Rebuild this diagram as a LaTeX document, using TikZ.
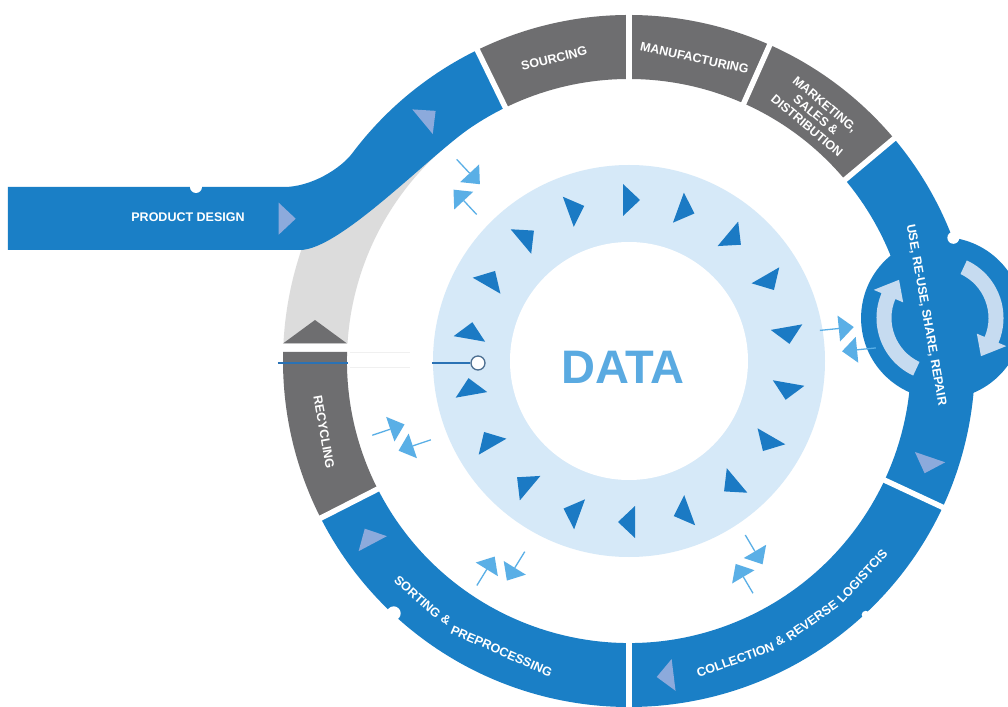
\documentclass[tikz,border=0pt]{standalone}
\usepackage{fontspec}
\setmainfont{Liberation Sans}
\definecolor{mainblue}{HTML}{1A7FC6}
\definecolor{segray}{HTML}{6E6E70}
\definecolor{lgray}{HTML}{DCDCDC}
\definecolor{ringblue}{HTML}{D6E9F8}
\definecolor{triblue}{HTML}{1B7AC4}
\definecolor{datablue}{HTML}{5AAAE1}
\definecolor{arrblue}{HTML}{5AAFE6}
\definecolor{flowtri}{HTML}{8CAADC}
\definecolor{curvarr}{HTML}{C6DBF0}
\definecolor{hubline}{HTML}{4D6F91}
\definecolor{linkblue}{HTML}{2A72B5}
\newcommand{\lblfont}{\bfseries\fontsize{12.5}{14}\selectfont}
\newcommand{\DataPair}[2]{%
  \begin{scope}[shift={(#1:#2)}, rotate=#1]
    \draw[dshaft] (27,-11.5) -- (8,-11.5);
    \fill[dar] (-7,-11.5) -- (8,-24.5) -- (8,1.5) -- cycle;
    \draw[dshaft] (-27,11.5) -- (-8,11.5);
    \fill[dar] (7,11.5) -- (-8,-1.5) -- (-8,24.5) -- cycle;
  \end{scope}}
\newcommand{\FlowTri}[2]{\fill[flow, shift={#1}, rotate=#2] (-6,-16) -- (11,0) -- (-6,16) -- cycle;}
\begin{document}
\begin{tikzpicture}[x=1pt,y=1pt,
  lbl/.style={text=white, font=\lblfont, inner sep=0pt},
  gap/.style={white, line width=5.5pt},
  notch/.style={fill=white},
  flow/.style={fill=flowtri},
  dtri/.style={fill=triblue},
  dar/.style={fill=arrblue},
  dshaft/.style={draw=arrblue, line width=1.3pt}
]
\clip (-629,-345) rectangle (379,361);
\fill[white] (-629,-345) rectangle (379,361);

% light gray return arc and arrow head
\fill[lgray] (-345.6,17.5) -- (-281.5,17.5) arc[start angle=176.44, end angle=128, radius=282]
  -- (128:346) arc[start angle=128, end angle=177.1, radius=346] -- cycle;
\fill[segray] (-346,17.5) -- (-282,17.5) -- (-314,41) -- cycle;

% product design band
\fill[mainblue] (-621,111) -- (-621,174) -- (-345,174)
  .. controls (-318,174) and (-288.3,192.2) .. (143:346)
  arc[start angle=143, end angle=116, radius=346] -- (116:282)
  arc[start angle=116, end angle=124, radius=282]
  .. controls (-199.2,205.9) and (-289,111) .. (-329,111) -- cycle;

% process ring
\fill[mainblue] (-153:282) arc[start angle=-153, end angle=40, radius=282]
  -- (40:346) arc[start angle=40, end angle=-153, radius=346] -- cycle;
\fill[mainblue] (7.8:316) circle[radius=81];
\fill[segray] (40:282) arc[start angle=40, end angle=116, radius=282]
  -- (116:346) arc[start angle=116, end angle=40, radius=346] -- cycle;
\fill[segray] (-345.9,9) -- (-281.9,9) arc[start angle=178.17, end angle=207, radius=282]
  -- (207:346) arc[start angle=207, end angle=178.51, radius=346] -- cycle;
\foreach \g in {116,90,66,40,-25,-90,-153} \draw[gap] (\g:274) -- (\g:354);

% notches
\fill[notch] (-433,174) circle[radius=6];
\fill[notch] (20.8:347) circle[radius=6];
\fill[notch] (227:345) circle[radius=7];
\fill[notch] (-47:347) circle[radius=4];

% flow triangles
\FlowTri{(-344.3,142.3)}{0}
\FlowTri{(129.7:316)}{39.7}
\FlowTri{(-18.8:316)}{-108.8}
\FlowTri{(-83:317)}{-173}
\FlowTri{(-145.6:314)}{118}

% curved arrows in the bulge
\begin{scope}[shift={(311,43)}]
  \fill[curvarr] (65:63.5) arc[start angle=65, end angle=-23, radius=63.5] -- (-23:72) -- (-43:56)
    -- (-23:40) -- (-23:48.5) arc[start angle=-23, end angle=65, radius=48.5] -- cycle;
  \fill[curvarr, rotate=180] (65:63.5) arc[start angle=65, end angle=-23, radius=63.5] -- (-23:72) -- (-43:56)
    -- (-23:40) -- (-23:48.5) arc[start angle=-23, end angle=65, radius=48.5] -- cycle;
\end{scope}

% labels
\node[lbl] (pd) at (-441,143.5) {PRODUCT DESIGN};
\node[lbl, rotate=13.9] (src) at (103.9:311.7) {SOURCING};
\node[lbl, rotate=-12.2] (man) at (77.8:310) {MANUFACTURING};
\node[lbl, rotate=-40, align=center] (mkt) at (187,246) {MARKETING,\\SALES \&\\DISTRIBUTION};
\node[lbl, rotate=-80] (use) at (297,46) {USE, RE-USE, SHARE, REPAIR};
\node[lbl, rotate=19.6] (col1) at (289.6:317.5) {COLLECTION};
\node[lbl, rotate=28.35] (col2) at (298.35:317.5) {\&};
\node[lbl, rotate=35.2] (col3) at (305.2:317.5) {REVERSE};
\node[lbl, rotate=47.3] (col4) at (317.3:317.5) {LOGISTCIS};
\node[lbl, rotate=-41.85] (sor1) at (228.15:317) {SORTING};
\node[lbl, rotate=-35.26] (sor2) at (234.74:317) {\&};
\node[lbl, rotate=-23.72] (sor3) at (246.28:317) {PREPROCESSING};
\node[lbl, rotate=-80] (rec) at (-305,-71) {RECYCLING};

% data ring
\fill[ringblue] (0,0) circle[radius=196];
\fill[white] (0,0) circle[radius=119];
\foreach \a in {10,30,...,350} {
  \fill[dtri, shift={(\a:161)}, rotate=\a-90] (-6,-16) -- (11,0) -- (-6,16) -- cycle;
}
\node[text=datablue, font=\bfseries\fontsize{47}{50}\selectfont, inner sep=0pt] (data) at (-6,-6.5) {DATA};

% link from recycling to data hub
\coordinate (recL) at (-351,-2);
\coordinate (recR) at (-281,-2);
\coordinate (ringL) at (-197,-2);
\coordinate (fa1) at (-279,8);
\coordinate (fb1) at (-219,8);
\coordinate (fa2) at (-279,-7);
\coordinate (fb2) at (-219,-7);
\draw[gray!12, line width=1pt] (fa1) -- (fb1);
\draw[gray!12, line width=1pt] (fa2) -- (fb2);
\draw[linkblue, line width=2pt] (recL) -- (recR);
\node[circle, draw=hubline, fill=white, line width=1.3pt, minimum size=14pt, inner sep=0pt] (hub) at (-151,-2) {};
\draw[linkblue, line width=1.5pt] (ringL) -- (hub.west);

% data exchange arrow pairs
\DataPair{133}{238}
\DataPair{5.7}{220}
\DataPair{-59.4}{236}
\DataPair{-121.7}{244}
\DataPair{-161.4}{240}
\end{tikzpicture}
\end{document}
